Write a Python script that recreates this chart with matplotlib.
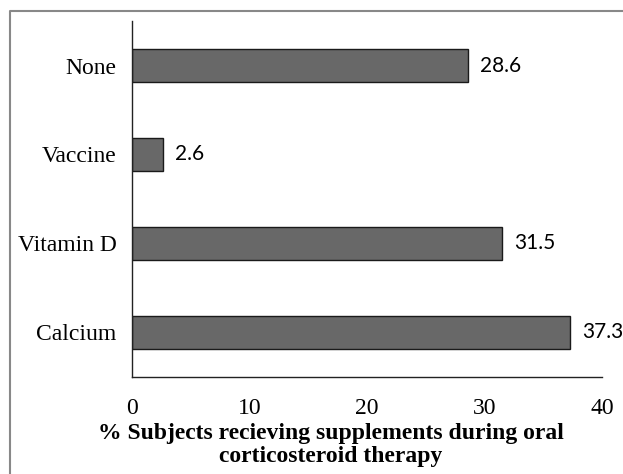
import matplotlib
matplotlib.use("Agg")
import matplotlib.pyplot as plt
from matplotlib.lines import Line2D

categories = ["Calcium", "Vitamin D", "Vaccine", "None"]
values = [37.3, 31.5, 2.6, 28.6]
xticks = [0, 10, 20, 30, 40]
xlabel = "% Subjects recieving supplements during oral\ncorticosteroid therapy"

plt.rcParams['font.family'] = ['Liberation Serif', 'DejaVu Serif']

W, H = 623, 474
fig = plt.figure(figsize=(W/100, H/100), dpi=100)
ax = fig.add_axes([132/W, 1-377/H, (602-132)/W, (377-21)/H])

ypos = list(range(len(categories)))
ax.barh(ypos, values, height=0.36, color="#686868", edgecolor="#1a1a1a", linewidth=1.0)
for y, v in zip(ypos, values):
    ax.text(v + 1.05, y, f"{v}", va="center", ha="left", fontsize=15,
            family=['Lato', 'DejaVu Sans'], clip_on=False)

ax.set_xlim(0, 40)
ax.set_ylim(-0.5, 3.5)
ax.set_yticks(ypos)
ax.set_yticklabels(categories, fontsize=17)
ax.set_xticks(xticks)
ax.set_xticklabels([str(t) for t in xticks], fontsize=17)
ax.tick_params(length=0)
ax.tick_params(axis='y', pad=11)
ax.tick_params(axis='x', pad=15)
ax.set_xlabel(xlabel, fontsize=17, fontweight="bold", labelpad=3, linespacing=1.12)
ax.xaxis.set_label_coords(0.423, -0.13, transform=ax.transAxes)
ax.xaxis.label.set_va("top")
for s in ["top", "right"]:
    ax.spines[s].set_visible(False)
for s in ["left", "bottom"]:
    ax.spines[s].set_color("#222222")
    ax.spines[s].set_linewidth(1.0)

# figure border (left and top)
fig.add_artist(Line2D([10/W, 10/W, 1.0], [0.0, 1-11/H, 1-11/H],
                      transform=fig.transFigure, color="#888888", linewidth=1.5))

fig.savefig("out.png", dpi=100)
